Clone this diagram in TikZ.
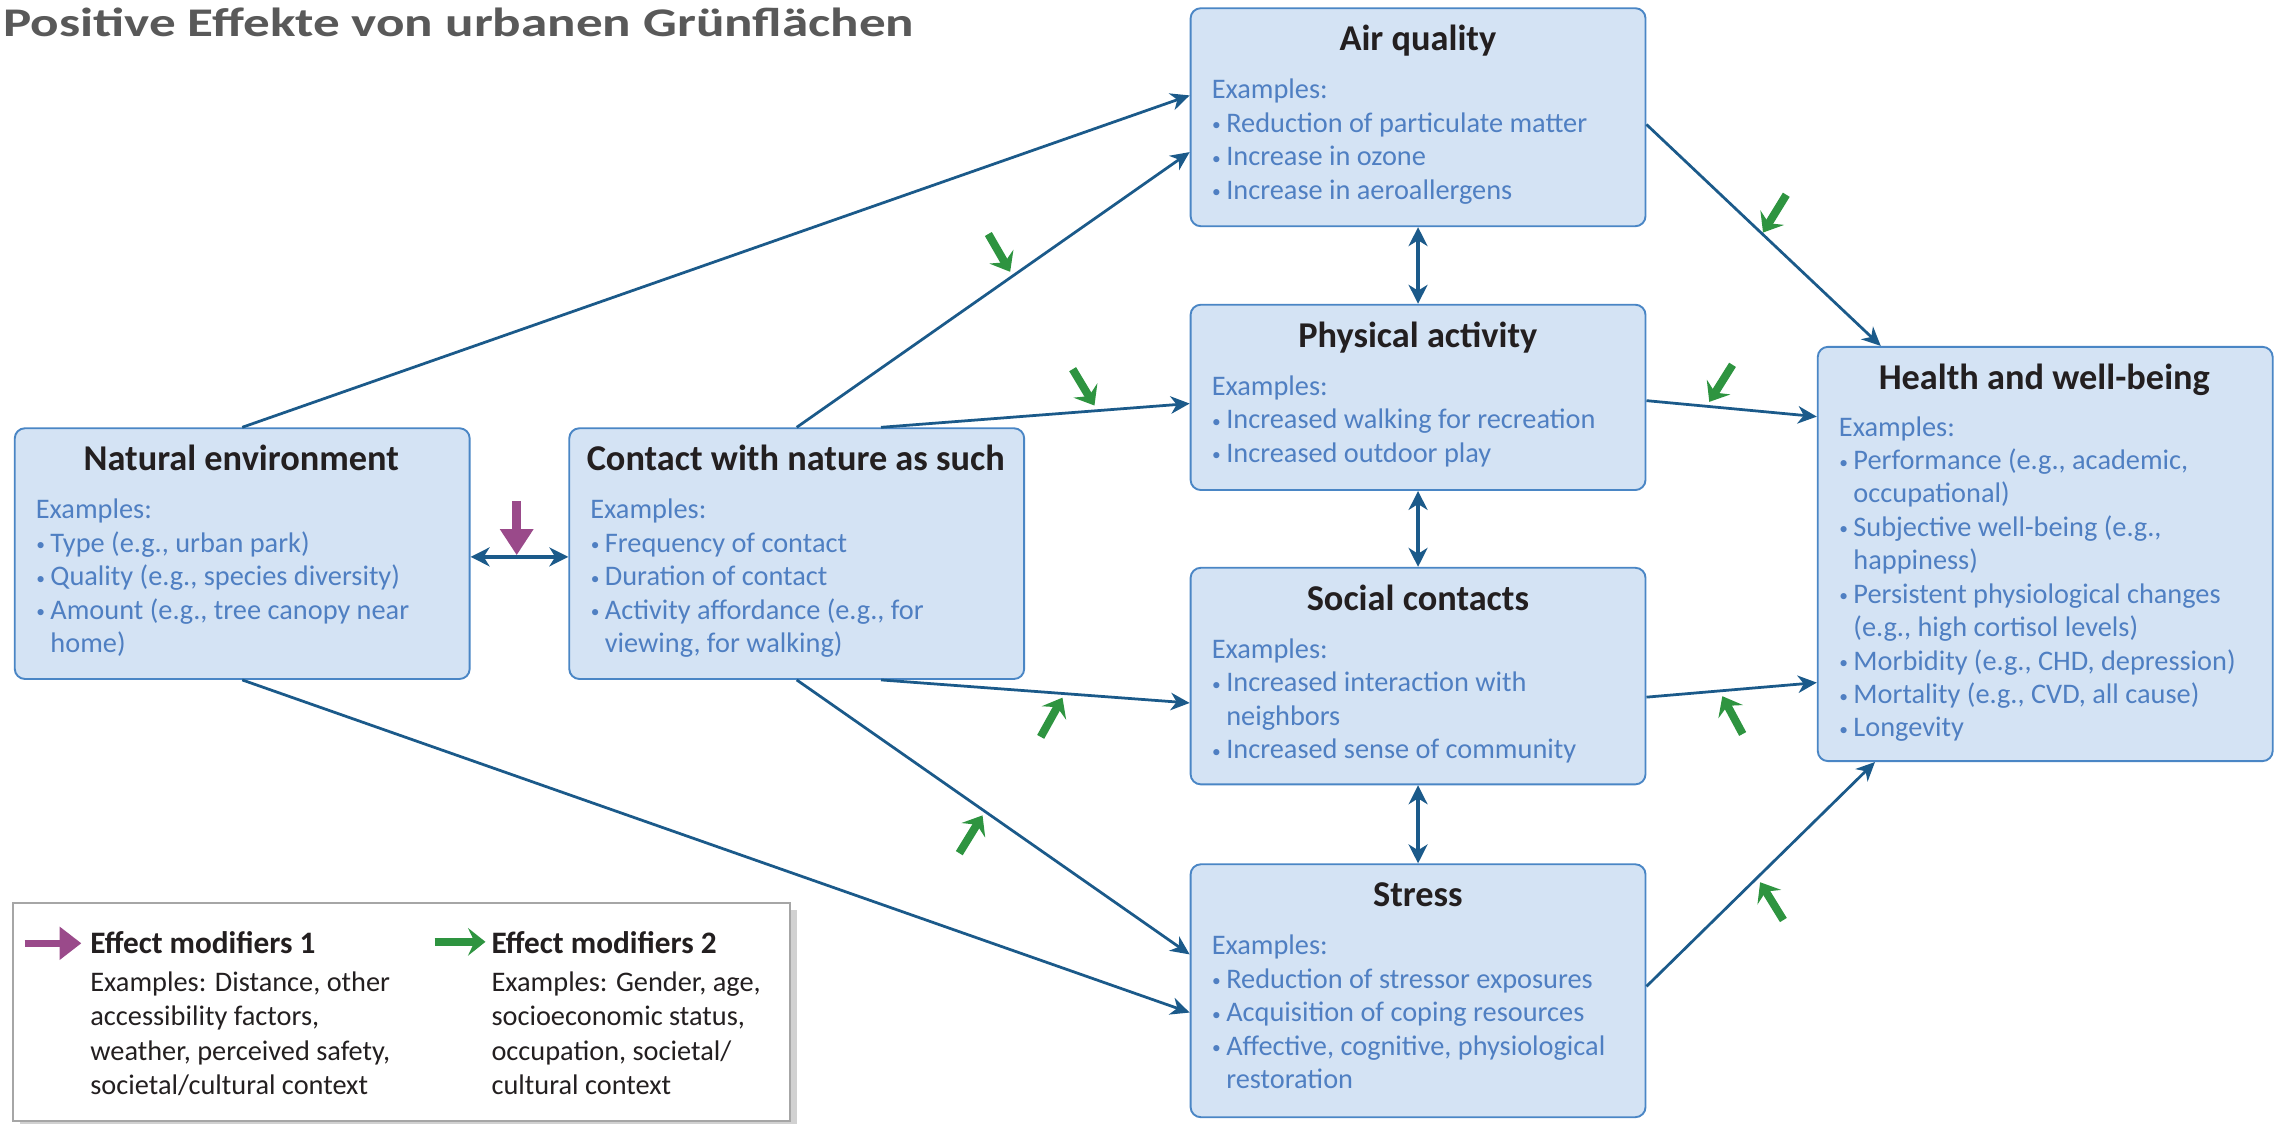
\documentclass[tikz,border=0pt]{standalone}
\usepackage{fontspec}
\setmainfont{Carlito}
\usepackage{graphicx}
\usetikzlibrary{arrows.meta,calc,shadows}

\definecolor{boxfill}{HTML}{D4E3F4}
\definecolor{boxdraw}{HTML}{4A86C5}
\definecolor{bodyblue}{HTML}{4F7FC2}
\definecolor{ttlcol}{HTML}{231F20}
\definecolor{conncol}{HTML}{1B5A8A}
\definecolor{modgreen}{HTML}{2E9440}
\definecolor{modpurple}{HTML}{9A4A8A}
\definecolor{headgrey}{HTML}{595959}
\definecolor{leggrey}{HTML}{A6A6A6}

\newcommand\bul{\makebox[10pt][l]{\hspace{0.3pt}\raisebox{1pt}{\fontsize{12}{12}\selectfont\textbullet}}}
\newcommand\itm[1]{\par\noindent\bul#1}
\newcommand\cnt[1]{\par\noindent\hspace*{10pt}#1}
\newcommand\bodytext[1]{\vtop{\hsize=300pt\parindent=0pt\parskip=0pt\fontsize{19.5}{23}\selectfont\noindent #1}}
\newcommand\legtext[1]{\vtop{\hsize=240pt\parindent=0pt\parskip=0pt\fontsize{19.5}{23.4}\selectfont\noindent #1}}

\tikzset{
  box/.style={draw=boxdraw, line width=1.3pt, fill=boxfill, rounded corners=7pt,
    minimum width=313pt, anchor=north west, inner sep=0pt},
  ttl/.style={anchor=base, text=ttlcol, font=\fontsize{25}{30}\selectfont\bfseries, inner sep=0pt},
  body/.style={anchor=base west, text=bodyblue, inner sep=0pt},
  conn/.style={draw=conncol, line width=1.9pt, -{Stealth[length=13pt,width=12pt,inset=4pt]}},
  biconn/.style={draw=conncol, line width=2.5pt,
    {Stealth[length=13pt,width=13pt,inset=4pt]}-{Stealth[length=13pt,width=13pt,inset=4pt]}},
  modg/.style={draw=modgreen, line width=5.5pt, -{Stealth[length=12pt,width=19pt,inset=4.5pt]}},
  modp/.style={draw=modpurple, line width=6pt, -{Triangle[length=18pt,width=22pt]}},
  legp/.style={draw=modpurple, line width=5pt, -{Triangle[length=15pt,width=22pt]}},
  leghead/.style={anchor=base west, text=ttlcol, font=\fontsize{21.5}{26}\selectfont\bfseries, inner sep=0pt},
  legbody/.style={anchor=base west, text=ttlcol, inner sep=0pt},
}

\begin{document}
\begin{tikzpicture}[x=1pt, y=-1pt]
\fill[white] (0,0) rectangle (1568,773);
\useasboundingbox (0,0) rectangle (1568,773);

% heading
\node[anchor=base west, text=headgrey, font=\fontsize{28}{32}\selectfont\bfseries, inner sep=0pt] (heading) at (2,25)
  {\scalebox{1.305}[1]{Positive Effekte von urbanen Grünflächen}};

% boxes
\node[box, minimum height=150pt] (air) at (818.5,5) {};
\node[box, minimum height=127.5pt] (phys) at (818.5,209) {};
\node[box, minimum height=149pt] (soc) at (818.5,390) {};
\node[box, minimum height=174pt] (str) at (818.5,594) {};
\node[box, minimum height=285pt] (hlth) at (1250,238) {};
\node[box, minimum height=172.5pt] (nat) at (9.5,294) {};
\node[box, minimum height=172.5pt] (cn) at (391,294) {};

% titles
\node[ttl] (airT) at (975.5,35) {Air quality};
\node[ttl] (physT) at (975.5,239) {Physical activity};
\node[ttl] (socT) at (975.5,420) {Social contacts};
\node[ttl] (strT) at (975.5,624) {Stress};
\node[ttl] (hlthT) at (1406.5,268) {Health and well-being};
\node[ttl] (natT) at (166,324) {Natural environment};
\node[ttl] (cnT) at (547.5,324) {Contact with nature as such};

% bodies
\node[body] (airB) at (833.5,68) {\bodytext{Examples:
  \itm{Reduction of particulate matter}
  \itm{Increase in ozone}
  \itm{Increase in aeroallergens}}};
\node[body] (physB) at (833.5,272) {\bodytext{Examples:
  \itm{Increased walking for recreation}
  \itm{Increased outdoor play}}};
\node[body] (socB) at (833.5,453) {\bodytext{Examples:
  \itm{Increased interaction with}
  \cnt{neighbors}
  \itm{Increased sense of community}}};
\node[body] (strB) at (833.5,657) {\bodytext{Examples:
  \itm{Reduction of stressor exposures}
  \itm{Acquisition of coping resources}
  \itm{Affective, cognitive, physiological}
  \cnt{restoration}}};
\node[body] (hlthB) at (1265,300) {\bodytext{Examples:
  \itm{Performance (e.g., academic,}
  \cnt{occupational)}
  \itm{Subjective well-being (e.g.,}
  \cnt{happiness)}
  \itm{Persistent physiological changes}
  \cnt{(e.g., high cortisol levels)}
  \itm{Morbidity (e.g., CHD, depression)}
  \itm{Mortality (e.g., CVD, all cause)}
  \itm{Longevity}}};
\node[body] (natB) at (24.5,357) {\bodytext{Examples:
  \itm{Type (e.g., urban park)}
  \itm{Quality (e.g., species diversity)}
  \itm{Amount (e.g., tree canopy near}
  \cnt{home)}}};
\node[body] (cnB) at (406,357) {\bodytext{Examples:
  \itm{Frequency of contact}
  \itm{Duration of contact}
  \itm{Activity affordance (e.g., for}
  \cnt{viewing, for walking)}}};

% connectors
\draw[conn] (nat.north) -- ([yshift=15pt]air.west);
\draw[conn] (nat.south) -- ([yshift=-15pt]str.west);
\draw[conn] (cn.north) -- ([yshift=-24pt]air.west);
\draw[conn] ([xshift=58pt]cn.north) -- ([yshift=-4.25pt]phys.west);
\draw[conn] ([xshift=58pt]cn.south) -- ([yshift=-18.5pt]soc.west);
\draw[conn] (cn.south) -- ([yshift=25pt]str.west);
\draw[conn] ([yshift=-5pt]air.east) -- ([xshift=44pt]hlth.north west);
\draw[conn] ([yshift=-2.25pt]phys.east) -- ([yshift=94.5pt]hlth.west);
\draw[conn] ([yshift=-14.5pt]soc.east) -- ([yshift=-88.5pt]hlth.west);
\draw[conn] ([yshift=3pt]str.east) -- ([xshift=40pt]hlth.south west);

\draw[biconn] (air.south) -- (phys.north);
\draw[biconn] (phys.south) -- (soc.north);
\draw[biconn] (soc.south) -- (str.north);
\draw[biconn] ([yshift=-2.25pt]nat.east) -- ([yshift=-2.25pt]cn.west);

% effect modifier arrows
\coordinate (pa) at (355.5,345);
\coordinate (pb) at (355.5,382);
\draw[modp] (pa) -- (pb);

\coordinate (g1a) at (680,161);  \coordinate (g1b) at (695,187);
\coordinate (g2a) at (738,254);  \coordinate (g2b) at (753,279);
\coordinate (g3a) at (1229,134); \coordinate (g3b) at (1213,160);
\coordinate (g4a) at (1192,251); \coordinate (g4b) at (1176,276.5);
\coordinate (g5a) at (716,507);  \coordinate (g5b) at (731,480);
\coordinate (g6a) at (660,587);  \coordinate (g6b) at (676,561);
\coordinate (g7a) at (1199,505); \coordinate (g7b) at (1185,479);
\coordinate (g8a) at (1227,633); \coordinate (g8b) at (1211,607);
\foreach \i in {1,...,8} { \draw[modg] (g\i a) -- (g\i b); }

% legend
\node[draw=leggrey, line width=1.3pt, fill=white, anchor=north west,
  minimum width=535pt, minimum height=150pt, inner sep=0pt,
  drop shadow={shadow xshift=5pt, shadow yshift=-5pt, fill=black!40, opacity=0.45}]
  (leg) at (8,620.5) {};
\coordinate (lp1) at (17,649);  \coordinate (lp2) at (56,649);
\draw[legp] (lp1) -- (lp2);
\coordinate (lg1) at (299,648); \coordinate (lg2) at (334,648);
\draw[modg] (lg1) -- (lg2);
\node[leghead] (lh1) at (62,656) {Effect modifiers 1};
\node[leghead] (lh2) at (338,656) {Effect modifiers 2};
\node[legbody] (lb1) at (62,682.5) {\legtext{Examples: Distance, other\par
  accessibility factors,\par weather, perceived safety,\par societal/cultural context}};
\node[legbody] (lb2) at (338,682.5) {\legtext{Examples: Gender, age,\par
  socioeconomic status,\par occupation, societal/\par cultural context}};
\end{tikzpicture}
\end{document}
